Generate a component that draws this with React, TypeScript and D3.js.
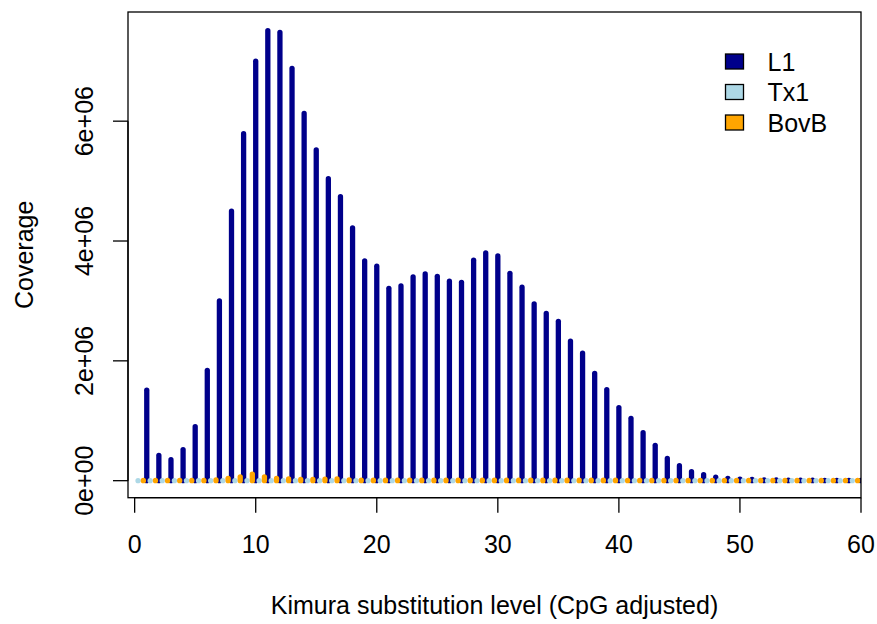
import React, {Component} from 'react';
import * as d3 from "d3";

// Kimura bins (x) and coverage per repeat family
const bins = [1,2,3,4,5,6,7,8,9,10,11,12,13,14,15,16,17,18,19,20,21,22,23,24,25,26,27,28,29,30,
  31,32,33,34,35,36,37,38,39,40,41,42,43,44,45,46,47,48,49,50,51,52,53,54,55,56,57,58,59,60];

const l1Values = [1510000,420000,350000,520000,900000,1840000,3000000,4500000,5790000,7000000,
  7510000,7480000,6880000,6130000,5520000,5040000,4740000,4220000,3670000,3580000,
  3210000,3250000,3400000,3450000,3410000,3330000,3310000,3680000,3800000,3750000,
  3460000,3230000,2950000,2790000,2660000,2330000,2130000,1790000,1520000,1220000,
  1040000,800000,590000,370000,250000,150000,100000,60000,40000,25000,
  20000,15000,12000,10000,8000,7000,6000,5000,4000,4000];

const tx1Values = [2000,1000,1000,1000,1000,1000,1000,2000,2000,2000,
  2000,2000,2000,2000,2000,2000,2000,2000,1000,1000,
  1000,1000,1000,1000,1000,1000,1000,1000,1000,1000,
  1000,1000,1000,1000,1000,1000,1000,1000,1000,1000,
  1000,1000,1000,1000,1000,1000,1000,1000,1000,1000,
  1000,1000,1000,1000,1000,1000,1000,1000,1000,1000];

const bovbValues = [4000,3000,3000,4000,5000,6000,12000,40000,65000,110000,
  65000,40000,30000,20000,20000,25000,30000,15000,10000,10000,
  8000,8000,8000,8000,8000,8000,8000,8000,8000,8000,
  8000,8000,8000,8000,8000,8000,8000,8000,8000,8000,
  6000,6000,6000,6000,5000,5000,5000,5000,4000,4000,
  4000,4000,4000,4000,4000,4000,4000,4000,4000,4000];

const xTickValues = [0, 10, 20, 30, 40, 50, 60];
const yTickValues = [0, 2000000, 4000000, 6000000];
const yTickLabels = ["0e+00", "2e+06", "4e+06", "6e+06"];

const legendNames = ["L1", "Tx1", "BovB"];
const legendColors = ["#00008B", "#ADD8E6", "#FFA500"];

class App extends Component {
    constructor(props) {
        super(props)
        this.state = {
            width: 877,
            height: 624,
            left: 128,
            right: 861,
            top: 12,
            bottom: 497.7
        }
    }

    getXScale() {
        return d3.scaleLinear()
            .domain([-0.55, 60])
            .range([this.state.left, this.state.right])
    }

    getYScale() {
        return d3.scaleLinear()
            .domain([-284000, 7822000])
            .range([this.state.bottom, this.state.top])
    }

    // R type="h" style: a vertical stroke from 0 to the value, round ends
    generateSpikes(x, y, values, offset, color) {
        return values.map((v, i) => (
            <line key={i} x1={x(bins[i] + offset)} x2={x(bins[i] + offset)}
                y1={y(0)} y2={y(v)} stroke={color} strokeWidth={5.3} strokeLinecap="round"/>
        ))
    }

    generateXTicks(x) {
        return xTickValues.map(d => (
            <g key={d} transform={`translate(${x(d)},${this.state.bottom})`}>
                <line y1='0' y2='15' stroke="black" strokeWidth={1.3}/>
                <text y="55" textAnchor="middle">{d}</text>
            </g>
        ))
    }

    generateYTicks(y) {
        return yTickValues.map((d, i) => (
            <g key={d} transform={`translate(${this.state.left},${y(d)})`}>
                <line x1='0' x2='-15' stroke="black" strokeWidth={1.3}/>
                <text transform="translate(-35,0) rotate(-90)" textAnchor="middle">{yTickLabels[i]}</text>
            </g>
        ))
    }

    render() {
        const x = this.getXScale();
        const y = this.getYScale();
        const {left, right, top, bottom} = this.state;

        return (
        <svg width={this.state.width} height={this.state.height}
             style={{position: "absolute", left: 0, top: 0, background: "white"}}
             fontFamily="'Liberation Sans', Arial, Helvetica, sans-serif" fontSize={25}>
            <defs>
                <clipPath id="plotArea">
                    <rect x={left} y={top} width={right - left} height={bottom - top}/>
                </clipPath>
            </defs>
            <g clipPath="url(#plotArea)">
                {this.generateSpikes(x, y, l1Values, 0, legendColors[0])}
                {this.generateSpikes(x, y, tx1Values, -0.72, legendColors[1])}
                {this.generateSpikes(x, y, bovbValues, -0.28, legendColors[2])}
            </g>
            <rect x={left} y={top} width={right - left} height={bottom - top}
                  fill="none" stroke="black" strokeWidth={1.3}/>
            <line x1={x(0)} x2={x(60)} y1={bottom} y2={bottom} stroke="black" strokeWidth={1.3}/>
            <line x1={left} x2={left} y1={y(0)} y2={y(6000000)} stroke="black" strokeWidth={1.3}/>
            <g>{this.generateXTicks(x)}</g>
            <g>{this.generateYTicks(y)}</g>
            <text x={(left + right) / 2} y={614} textAnchor="middle">Kimura substitution level (CpG adjusted)</text>
            <text transform={`translate(33,${(top + bottom) / 2}) rotate(-90)`} textAnchor="middle">Coverage</text>
            <g>
                {legendNames.map((name, i) => (
                    <g key={name} transform={`translate(725.5,${61.5 + i * 30.5})`}>
                        <rect x="0" y="-7.5" width="18" height="15" fill={legendColors[i]}
                              stroke="black" strokeWidth={1.3}/>
                        <text x="42" y="9">{name}</text>
                    </g>
                ))}
            </g>
        </svg>
        )
    }
}

export default App;
